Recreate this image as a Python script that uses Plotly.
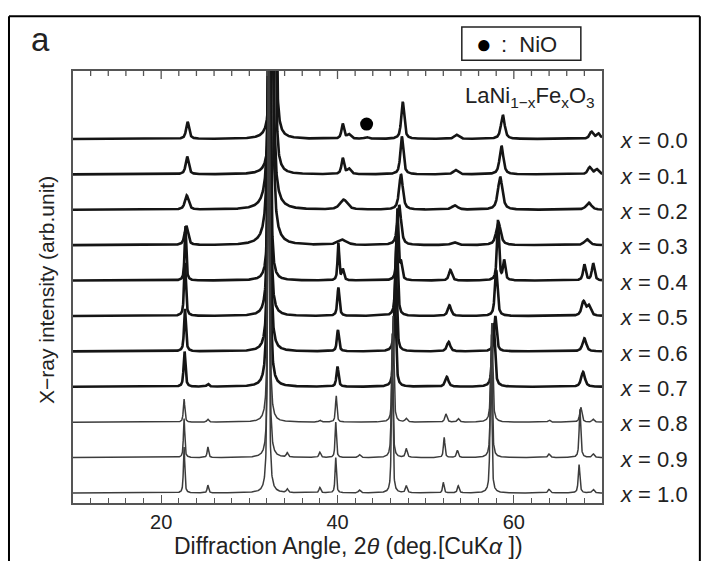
import numpy as np
import plotly.graph_objects as go

# ---- data -----------------------------------------------------------------
compositions = ["0.0", "0.1", "0.2", "0.3", "0.4", "0.5", "0.6", "0.7", "0.8", "0.9", "1.0"]

# each row: (2theta position in deg, peak height in stacking units, FWHM in deg)
peaks_x00 = [(23.0, 0.48, 0.40), (32.55, 9, 0.30), (32.9, 7, 0.30), (40.6, 0.42, 0.35),
             (41.3, 0.12, 0.50), (43.3, 0.05, 0.50), (47.4, 1.05, 0.40), (53.5, 0.12, 0.60),
             (58.75, 0.68, 0.50), (68.8, 0.20, 0.50), (69.6, 0.15, 0.50)]
peaks_x01 = [(22.95, 0.50, 0.40), (32.5, 9, 0.30), (32.85, 7, 0.30), (40.6, 0.45, 0.35),
             (41.3, 0.15, 0.50), (47.3, 1.07, 0.40), (53.4, 0.12, 0.60), (58.6, 0.80, 0.50),
             (68.6, 0.20, 0.50), (69.4, 0.14, 0.50)]
peaks_x02 = [(22.9, 0.40, 0.50), (32.45, 13, 0.45), (40.7, 0.28, 1.00), (47.2, 1.00, 0.50),
             (53.3, 0.12, 0.80), (58.45, 0.93, 0.60), (68.5, 0.20, 0.70)]
peaks_x03 = [(22.85, 0.54, 0.45), (32.4, 13, 0.45), (40.5, 0.15, 1.20), (47.0, 1.13, 0.50),
             (53.2, 0.08, 0.80), (58.25, 0.65, 0.60), (68.3, 0.17, 0.70)]
peaks_x04 = [(22.75, 1.55, 0.22), (32.3, 13, 0.25), (40.1, 1.05, 0.22), (40.6, 0.30, 0.30),
             (46.8, 2.0, 0.25), (47.2, 0.45, 0.30), (52.8, 0.30, 0.40), (58.2, 1.7, 0.28),
             (58.9, 0.55, 0.30), (68.0, 0.45, 0.35), (69.0, 0.48, 0.35)]
peaks_x05 = [(22.7, 1.5, 0.25), (32.25, 13, 0.28), (40.1, 0.80, 0.28), (46.7, 2.3, 0.30),
             (52.7, 0.30, 0.45), (58.0, 1.3, 0.35), (67.9, 0.40, 0.50), (68.5, 0.28, 0.50)]
peaks_x06 = [(22.7, 1.2, 0.25), (32.25, 13, 0.28), (40.05, 0.60, 0.28), (46.6, 2.4, 0.30),
             (52.6, 0.27, 0.45), (57.9, 1.0, 0.35), (68.0, 0.37, 0.50)]
peaks_x07 = [(22.65, 1.0, 0.25), (25.3, 0.08, 0.30), (32.2, 13, 0.28), (40.0, 0.57, 0.28),
             (46.5, 2.5, 0.30), (52.4, 0.28, 0.45), (57.7, 1.8, 0.35), (67.85, 0.42, 0.50)]
peaks_x08 = [(22.6, 0.65, 0.20), (25.3, 0.08, 0.25), (32.2, 13, 0.22), (38.0, 0.05, 0.30),
             (39.85, 0.75, 0.20), (46.3, 3.0, 0.22), (47.8, 0.10, 0.30), (52.3, 0.23, 0.30),
             (53.7, 0.10, 0.30), (57.5, 2.8, 0.25), (64.0, 0.06, 0.30), (67.6, 0.42, 0.30),
             (69.0, 0.08, 0.30)]
peaks_x09 = [(22.6, 1.1, 0.18), (25.3, 0.30, 0.20), (32.2, 13, 0.20), (34.3, 0.12, 0.25),
             (38.0, 0.15, 0.25), (39.8, 1.0, 0.18), (42.5, 0.08, 0.30), (46.2, 3.5, 0.20),
             (47.8, 0.25, 0.25), (52.1, 0.57, 0.20), (53.6, 0.20, 0.25), (57.45, 3.5, 0.22),
             (64.0, 0.10, 0.30), (67.5, 1.36, 0.22), (69.0, 0.10, 0.30)]
peaks_x10 = [(22.6, 1.3, 0.18), (25.3, 0.22, 0.20), (32.15, 13, 0.20), (34.3, 0.10, 0.25),
             (38.0, 0.15, 0.25), (39.8, 1.0, 0.18), (42.5, 0.08, 0.30), (46.2, 3.8, 0.20),
             (47.8, 0.20, 0.25), (52.0, 0.30, 0.20), (53.7, 0.20, 0.25), (57.4, 3.8, 0.22),
             (64.0, 0.10, 0.30), (67.4, 0.80, 0.22), (69.0, 0.10, 0.30)]

peak_tables = [peaks_x00, peaks_x01, peaks_x02, peaks_x03, peaks_x04, peaks_x05,
               peaks_x06, peaks_x07, peaks_x08, peaks_x09, peaks_x10]

nio_peak_angle = 43.3
x_tick_values = [20, 40, 60]
x_minor_step = 2
x_range = [10, 70]

# ---- drawing ----------------------------------------------------------------
two_theta = np.arange(x_range[0], x_range[1] + 0.0001, 0.02)


def profile(table):
    y = np.zeros_like(two_theta)
    for pos, h, w in table:
        d = (two_theta - pos) / (w / 2.0)
        lor = 1.0 / (1.0 + d * d)
        gau = np.exp(-np.log(2.0) * d * d)
        y += h * (0.7 * lor + 0.3 * gau)
    return y


n = len(compositions)
y_range = [-0.2825, 11.92]
fig = go.Figure()
for i, (comp, table) in enumerate(zip(compositions, peak_tables)):
    offset = (n - 1) - i
    if i < 8:
        line = dict(color="#151515", width=2.6)
    else:
        line = dict(color="#3c3c3c", width=1.5)
    fig.add_trace(go.Scatter(x=two_theta, y=offset + profile(table), mode="lines",
                             line=line, showlegend=False, hoverinfo="skip"))

# NiO marker above x=0.0 pattern
fig.add_trace(go.Scatter(x=[nio_peak_angle], y=[(n - 1) + 0.42], mode="markers",
                         marker=dict(color="black", size=13), showlegend=False))

# top-axis tick marks (mirror of the bottom axis) drawn as short vertical segments
top_ticks = list(range(x_range[0] + x_minor_step, x_range[1], x_minor_step))
tick_x, tick_y = [], []
span = y_range[1] - y_range[0]
for t in top_ticks:
    length = 8 / 432 * span if t in x_tick_values else 5 / 432 * span
    tick_x += [t, t, None]
    tick_y += [y_range[1], y_range[1] - length, None]
fig.add_trace(go.Scatter(x=tick_x, y=tick_y, mode="lines",
                         line=dict(color="#555", width=1.3), showlegend=False,
                         hoverinfo="skip"))

FONT = "Liberation Sans, Arial, Helvetica, sans-serif"
annotations = []
for i, comp in enumerate(compositions):
    annotations.append(dict(x=1.03, xref="paper", y=(n - 1) - i - 0.05, yref="y",
                            text="<i>x</i> = " + comp, showarrow=False, xanchor="left",
                            yanchor="middle", font=dict(size=22, color="#222", family=FONT)))

annotations += [
    dict(x=0.991, xref="paper", y=0.94, yref="paper",
         text="LaNi<sub>1−x</sub>Fe<sub>x</sub>O<sub>3</sub>", showarrow=False,
         xanchor="right", yanchor="middle", font=dict(size=22, color="#222", family=FONT)),
    dict(x=-0.062, xref="paper", y=1.073, yref="paper", text="a", showarrow=False,
         xanchor="center", yanchor="middle", font=dict(size=33, color="#222", family=FONT)),
    dict(x=0.777, xref="paper", y=1.062, yref="paper", text="●", showarrow=False,
         xanchor="center", yanchor="middle", font=dict(size=26, color="#000", family=FONT)),
    dict(x=0.805, xref="paper", y=1.062, yref="paper", text=":  NiO", showarrow=False,
         xanchor="left", yanchor="middle", font=dict(size=22, color="#222", family=FONT)),
    dict(x=0.52, xref="paper", y=-0.1, yref="paper",
         text="Diffraction Angle, 2<i>θ</i> (deg.[CuK<i>α</i> ])", showarrow=False,
         xanchor="center", yanchor="middle", font=dict(size=23, color="#222", family=FONT)),
    dict(x=-0.051, xref="paper", y=0.493, yref="paper", text="X−ray intensity (arb.unit)",
         showarrow=False, textangle=-90, xanchor="center", yanchor="middle",
         font=dict(size=21, color="#222", family=FONT)),
]

shapes = [
    # NiO legend box
    dict(type="rect", xref="paper", yref="paper", x0=0.735, x1=0.960, y0=1.025, y1=1.102,
         line=dict(color="#222", width=1.5)),
    # outer figure frame (left, top, right)
    dict(type="line", xref="paper", yref="paper", x0=-0.121, x1=-0.121, y0=-0.2, y1=1.127,
         line=dict(color="black", width=2)),
    dict(type="line", xref="paper", yref="paper", x0=-0.121, x1=1.185, y0=1.127, y1=1.127,
         line=dict(color="black", width=2)),
    dict(type="line", xref="paper", yref="paper", x0=1.185, x1=1.185, y0=-0.2, y1=1.127,
         line=dict(color="black", width=2)),
]

fig.update_layout(
    width=710, height=561,
    margin=dict(l=73, r=108, t=71, b=58),
    paper_bgcolor="white", plot_bgcolor="white",
    showlegend=False,
    annotations=annotations,
    shapes=shapes,
    xaxis=dict(range=x_range, tickvals=x_tick_values, ticks="inside", ticklen=8,
               tickcolor="#555", tickwidth=1.2, showgrid=False, zeroline=False,
               showline=True, linecolor="#555", linewidth=1.5, mirror=True,
               tickfont=dict(size=20, color="#222", family=FONT),
               minor=dict(dtick=x_minor_step, ticks="inside", ticklen=5, tickcolor="#555",
                          tickwidth=1.2)),
    yaxis=dict(range=y_range, showticklabels=False, ticks="", showline=True,
               linecolor="#555", linewidth=1.5, mirror=True, showgrid=False, zeroline=False),
)

fig.write_html("out.html")
